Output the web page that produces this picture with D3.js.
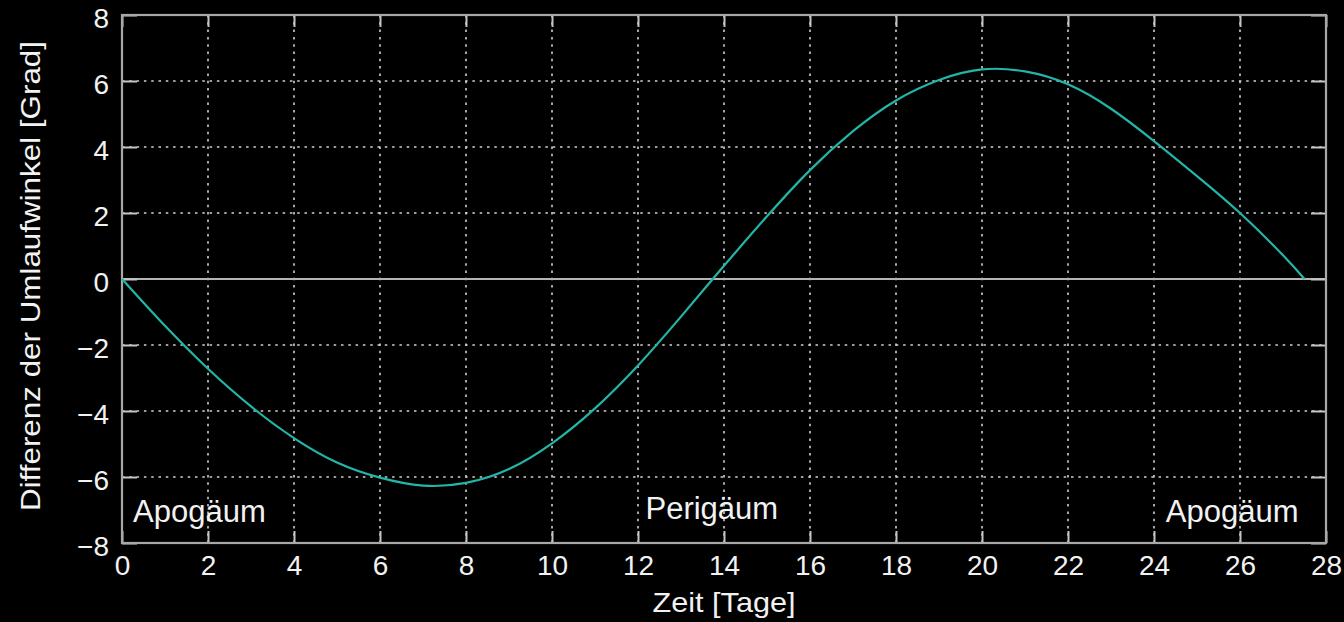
<!DOCTYPE html>
<html>
<head>
<meta charset="utf-8">
<script src="https://cdn.jsdelivr.net/npm/d3@7"></script>
<style>
  html, body { margin: 0; padding: 0; background: #000; }
  svg { display: block; }
  text { font-family: "Liberation Sans", Arial, sans-serif; fill: #f2f2f2; }
</style>
</head>
<body>
<figure id="chart" style="margin:0"></figure>
<script>
// values
const days = [0, 1, 2, 3, 4, 5, 6, 7, 8, 9, 10, 11, 12, 13, 14, 15, 16, 17, 18, 19, 20, 21, 22, 23, 24, 25, 26, 27, 27.5];
const angleDiff = [0, -1.42, -2.72, -3.86, -4.82, -5.56, -6.02, -6.26, -6.18, -5.76, -4.98, -3.92, -2.62, -1.14, 0.4, 1.9, 3.3, 4.48, 5.41, 6.03, 6.35, 6.29, 5.9, 5.16, 4.18, 3.12, 2.0, 0.72, 0];
const xTicks = [0, 2, 4, 6, 8, 10, 12, 14, 16, 18, 20, 22, 24, 26, 28];
const yTicks = [-8, -6, -4, -2, 0, 2, 4, 6, 8];
const markerLabels = ["Apogäum", "Perigäum", "Apogäum"];
const markerDays = [0, 13.74, 27.5];
const xTitle = "Zeit [Tage]";
const yTitle = "Differenz der Umlaufwinkel [Grad]";

const W = 1344, H = 622;
const margin = { top: 15, right: 18, bottom: 79, left: 122 };
const width = W - margin.left - margin.right;
const height = H - margin.top - margin.bottom;

const svg = d3.select("#chart").append("svg")
  .attr("width", W)
  .attr("height", H);

const g = svg.append("g")
  .attr("transform", "translate(" + margin.left + "," + margin.top + ")");

const x = d3.scaleLinear().domain([0, 28]).range([0, width]);
const y = d3.scaleLinear().domain([-8, 8]).range([height, 0]);

// dotted grid
g.append("g").selectAll("line")
  .data(xTicks.slice(1, -1))
  .enter().append("line")
  .attr("x1", d => x(d)).attr("x2", d => x(d))
  .attr("y1", 0).attr("y2", height)
  .attr("stroke", "#cfcfcf")
  .attr("stroke-width", 1.6)
  .attr("stroke-dasharray", "2.5,4.8");

g.append("g").selectAll("line")
  .data(yTicks.slice(1, -1).filter(d => d !== 0))
  .enter().append("line")
  .attr("x1", 0).attr("x2", width)
  .attr("y1", d => y(d)).attr("y2", d => y(d))
  .attr("stroke", "#cfcfcf")
  .attr("stroke-width", 1.6)
  .attr("stroke-dasharray", "2.5,4.8");

// zero axis
g.append("line")
  .attr("x1", 0).attr("x2", width)
  .attr("y1", y(0)).attr("y2", y(0))
  .attr("stroke", "#b4b4b4")
  .attr("stroke-width", 2);

// axes (ticks pointing inward)
const axisStyle = sel => {
  sel.select(".domain").remove();
  sel.selectAll(".tick line").attr("stroke", "#c4c4c4").attr("stroke-width", 2);
  sel.selectAll(".tick text")
    .style("font-size", "28px")
    .attr("fill", "#f2f2f2");
};

g.append("g")
  .attr("transform", "translate(0," + height + ")")
  .call(d3.axisBottom(x).tickValues(xTicks).tickSizeInner(-12).tickSizeOuter(0).tickPadding(32))
  .call(axisStyle)
  .selectAll(".tick text").attr("dy", "0");

g.append("g")
  .call(d3.axisLeft(y).tickValues(yTicks).tickSizeInner(-15).tickSizeOuter(0).tickPadding(13))
  .call(axisStyle)
  .selectAll(".tick text").attr("dy", "0.46em");

g.append("g")
  .call(d3.axisTop(x).tickValues(xTicks).tickSizeInner(-12).tickSizeOuter(0).tickFormat(""))
  .call(axisStyle);

g.append("g")
  .attr("transform", "translate(" + width + ",0)")
  .call(d3.axisRight(y).tickValues(yTicks).tickSizeInner(-15).tickSizeOuter(0).tickFormat(""))
  .call(axisStyle);

// frame
g.append("rect")
  .attr("x", 0).attr("y", 0)
  .attr("width", width).attr("height", height)
  .attr("fill", "none")
  .attr("stroke", "#a8a8a8")
  .attr("stroke-width", 2.2);

// curve
const line = d3.line()
  .x((d, i) => x(days[i]))
  .y(d => y(d))
  .curve(d3.curveNatural);

g.append("path")
  .datum(angleDiff)
  .attr("d", line)
  .attr("fill", "none")
  .attr("stroke", "#22b5a8")
  .attr("stroke-width", 2.2);

// apogee / perigee labels
const anchors = ["start", "middle", "end"];
const offsets = [11, -1, -6];
g.append("g").selectAll("text")
  .data(markerLabels)
  .enter().append("text")
  .attr("x", (d, i) => x(markerDays[i]) + offsets[i])
  .attr("y", (d, i) => y(-8) - (i === 1 ? 24 : 21))
  .attr("text-anchor", (d, i) => anchors[i])
  .style("font-size", "31px")
  .text(d => d);

// axis titles
svg.append("text")
  .attr("x", margin.left + width / 2)
  .attr("y", 612)
  .attr("text-anchor", "middle")
  .attr("textLength", 143)
  .attr("lengthAdjust", "spacingAndGlyphs")
  .style("font-size", "28px")
  .text(xTitle);

svg.append("text")
  .attr("transform", "translate(40,276)rotate(-90)")
  .attr("text-anchor", "middle")
  .attr("textLength", 470)
  .attr("lengthAdjust", "spacingAndGlyphs")
  .style("font-size", "28px")
  .text(yTitle);
</script>
</body>
</html>
